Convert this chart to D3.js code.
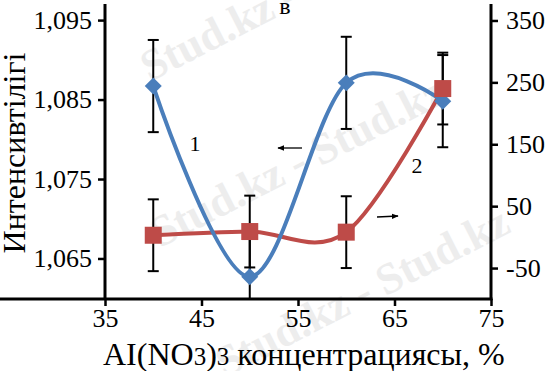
<!DOCTYPE html>
<html>
<head>
<meta charset="utf-8">
<script src="https://cdn.jsdelivr.net/npm/d3@7"></script>
<style>
  body { margin: 0; background: white; }
  svg text { font-family: "Liberation Serif", "Times New Roman", serif; }
</style>
</head>
<body>
<div id="chart"></div>
<script>
// Chart data
const concentration = [40, 50, 60, 70]
const intensity = [1.0867, 1.0627, 1.0871, 1.0848]   // curve 1, left axis
const intensityErr = [0.0058, 0.0058, 0.0058, 0.0058]
const series2 = [3, 9, 8, 240]                       // curve 2, right axis
const series2Err = [58, 58, 58, 58]
const xTicks = [35, 45, 55, 65, 75]
const leftTicks = [1.065, 1.075, 1.085, 1.095]
const rightTicks = [-50, 50, 150, 250, 350]

const W = 547, H = 371
const serif = '"Liberation Serif", "Times New Roman", serif'
const svg = d3.select('#chart').append('svg')
    .attr('width', W).attr('height', H)

// faint site watermark behind everything
const wm = svg.append('g').attr('fill', '#dcdcdc').attr('opacity', 0.5)
    .attr('font-weight', 'bold').attr('font-size', 44)
;[[150, 82], [160, 248], [225, 378]].forEach(([x, y]) => {
    wm.append('text').attr('transform', `translate(${x},${y}) rotate(-27)`)
        .text('Stud.kz - Stud.kz')
})

const x = d3.scaleLinear().domain([35, 75]).range([105, 491])
const yL = d3.scaleLinear().domain([1.0599, 1.0969]).range([299, 5])
const yR = d3.scaleLinear().domain([-100, 375]).range([299, 5])

svg.append('clipPath').attr('id', 'plot')
    .append('rect').attr('x', 105).attr('y', 0).attr('width', 386).attr('height', 299)

// axes
const fmtL = d => d3.format('.3f')(d).replace('.', ',')
const left = svg.append('g').attr('transform', 'translate(105,0)')
    .call(d3.axisLeft(yL).tickValues(leftTicks).tickFormat(fmtL).tickSize(7).tickPadding(6))
const right = svg.append('g').attr('transform', 'translate(491,0)')
    .call(d3.axisRight(yR).tickValues(rightTicks).tickSize(7).tickPadding(8).tickFormat(d3.format('d')))
const bottom = svg.append('g').attr('transform', 'translate(0,299)')
    .call(d3.axisBottom(x).tickValues(xTicks).tickSize(7).tickPadding(3))

;[left, right, bottom].forEach(g => {
    g.attr('font-family', serif)
    g.select('.domain').attr('stroke-width', 3)
    g.selectAll('.tick line').attr('stroke-width', 2.5)
    g.selectAll('.tick text').style('font-size', '26px').style('font-family', serif).attr('fill', '#000')
})
left.select('.domain').attr('d', 'M0,4V300')
right.select('.domain').attr('d', 'M0,4V300')
bottom.select('.domain').attr('d', 'M-1.5,0H492.5')
right.selectAll('.tick text').text(d => d < 0 ? '-' + Math.abs(d) : d)

const plot = svg.append('g').attr('clip-path', 'url(#plot)')

// error bars
function errorBars(vals, errs, y) {
    const g = plot.append('g').attr('stroke', '#000').attr('stroke-width', 2)
    concentration.forEach((c, i) => {
        const cx = x(c), y0 = y(vals[i] - errs[i]), y1 = y(vals[i] + errs[i])
        g.append('line').attr('x1', cx).attr('x2', cx).attr('y1', y0).attr('y2', y1)
        g.append('line').attr('x1', cx - 5.5).attr('x2', cx + 5.5).attr('y1', y0).attr('y2', y0)
        g.append('line').attr('x1', cx - 5.5).attr('x2', cx + 5.5).attr('y1', y1).attr('y2', y1)
    })
}
errorBars(intensity, intensityErr, yL)
errorBars(series2, series2Err, yR)

const curve = d3.curveCardinal.tension(0)
const blue = '#4a7ebb', red = '#be4b48'

plot.append('path')
    .attr('d', d3.line().curve(curve).x(d => x(d[0])).y(d => yR(d[1]))(d3.zip(concentration, series2)))
    .attr('fill', 'none').attr('stroke', red).attr('stroke-width', 4)
plot.append('path')
    .attr('d', d3.line().curve(curve).x(d => x(d[0])).y(d => yL(d[1]))(d3.zip(concentration, intensity)))
    .attr('fill', 'none').attr('stroke', blue).attr('stroke-width', 4)

// markers
const diamond = d3.symbol().type(d3.symbolSquare).size(144)
plot.selectAll('.dia').data(d3.zip(concentration, intensity)).join('path')
    .attr('d', diamond)
    .attr('transform', d => `translate(${x(d[0])},${yL(d[1])}) rotate(45)`)
    .attr('fill', blue)
const square = d3.symbol().type(d3.symbolSquare).size(289)
plot.selectAll('.sq').data(d3.zip(concentration, series2)).join('path')
    .attr('d', square)
    .attr('transform', d => `translate(${x(d[0])},${yR(d[1])})`)
    .attr('fill', red)

// curve labels and arrows
svg.append('text').attr('x', 195).attr('y', 151).attr('text-anchor', 'middle')
    .attr('font-size', 22).text('1')
svg.append('text').attr('x', 417).attr('y', 173).attr('text-anchor', 'middle')
    .attr('font-size', 22).text('2')
svg.append('text').attr('x', 285).attr('y', 14).attr('text-anchor', 'middle')
    .attr('font-size', 24).text('в')

svg.append('defs').append('marker').attr('id', 'arr')
    .attr('viewBox', '0 0 10 10').attr('refX', 9).attr('refY', 5)
    .attr('markerWidth', 7).attr('markerHeight', 7).attr('orient', 'auto')
    .attr('markerUnits', 'userSpaceOnUse')
    .append('path').attr('d', 'M0,1L10,5L0,9Z').attr('fill', '#000')
svg.append('line').attr('x1', 302).attr('x2', 278).attr('y1', 148).attr('y2', 148)
    .attr('stroke', '#000').attr('stroke-width', 1.3).attr('marker-end', 'url(#arr)')
svg.append('line').attr('x1', 377).attr('x2', 398).attr('y1', 217).attr('y2', 216)
    .attr('stroke', '#000').attr('stroke-width', 1.3).attr('marker-end', 'url(#arr)')

// axis titles
svg.append('text').attr('transform', 'translate(25,153) rotate(-90)')
    .attr('text-anchor', 'middle').attr('font-size', 32).text('Интенсивтілігі')

const xt = svg.append('text').attr('x', 103).attr('y', 365).attr('font-size', 32)
xt.append('tspan').text('AI(NO')
xt.append('tspan').attr('font-size', 25).text('3')
xt.append('tspan').text(')')
xt.append('tspan').attr('font-size', 25).text('3')
xt.append('tspan').text(' концентрациясы, %')
</script>
</body>
</html>
